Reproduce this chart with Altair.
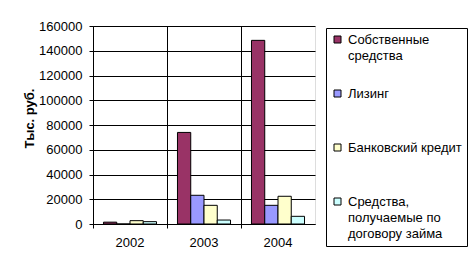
import altair as alt
import pandas as pd

years = ["2002", "2003", "2004"]
series = [
    "Собственные средства",
    "Лизинг",
    "Банковский кредит",
    "Средства, получаемые по договору займа",
]
own_funds = [1500, 74000, 148400]
leasing = [0, 23200, 15100]
bank_credit = [2700, 15100, 22400]
loan_funds = [1900, 3200, 6200]
colors = ["#993366", "#9999FF", "#FFFFCC", "#CCFFFF"]
legend_lines = {
    "Собственные средства": ["Собственные", "средства", ""],
    "Лизинг": ["Лизинг", "", ""],
    "Банковский кредит": ["Банковский кредит", "", ""],
    "Средства, получаемые по договору займа": ["Средства,", "получаемые по", "договору займа"],
}

rows = []
for name, vals in zip(series, [own_funds, leasing, bank_credit, loan_funds]):
    for y, v in zip(years, vals):
        rows.append({"year": y, "series": name, "value": v})
df = pd.DataFrame(rows)

def js_list(lst):
    return "[" + ",".join("'" + s + "'" for s in lst) + "]"

label_expr = "{" + ",".join("'" + k + "':" + js_list(v) for k, v in legend_lines.items()) + "}[datum.label]"

FONT = "Arial"
FS = 13

chart = alt.Chart(df).mark_bar(stroke="black", strokeWidth=1).encode(
    x=alt.X(
        "year:N",
        scale=alt.Scale(paddingInner=0, paddingOuter=0),
        axis=alt.Axis(
            title=None, labelAngle=0, bandPosition=0, grid=True, gridColor="black",
            gridOpacity=1, tickColor="black", tickSize=4, labelPadding=8,
            domainColor="black", labelFontSize=FS, labelFont=FONT, labelColor="black",
        ),
    ),
    xOffset=alt.XOffset("series:N", sort=series, scale=alt.Scale(paddingInner=0, paddingOuter=0.79)),
    y=alt.Y(
        "value:Q",
        scale=alt.Scale(domain=[0, 160000], nice=False),
        axis=alt.Axis(
            title="Тыс. руб.", values=list(range(0, 160001, 20000)), format="d",
            grid=True, gridColor="black", gridOpacity=1, tickColor="black", tickSize=4,
            labelPadding=7, domainColor="black", labelFontSize=FS, labelFont=FONT,
            labelColor="black", titleFont=FONT, titleFontSize=FS, titleFontWeight="bold",
            titleColor="black", titleX=-64, titleY=92, titleAngle=270,
            titleAlign="center", titleBaseline="middle",
        ),
    ),
    color=alt.Color(
        "series:N", sort=series,
        scale=alt.Scale(domain=series, range=colors),
        legend=alt.Legend(
            title=None, orient="none", legendX=233, legendY=2,
            labelExpr=label_expr, labelFont=FONT, labelFontSize=FS, labelColor="black",
            labelBaseline="middle", labelLimit=300,
            symbolType="square", symbolSize=49, symbolStrokeColor="black",
            symbolStrokeWidth=1, symbolOpacity=1, labelOffset=4,
            rowPadding=8, padding=5, strokeColor="black", fillColor="white",
        ),
    ),
).properties(
    width=222, height=198,
    autosize=alt.AutoSizeParams(type="none"),
    padding={"left": 93, "top": 26, "right": 154, "bottom": 46},
).configure_view(stroke="#808080", strokeWidth=1).configure(
    background="white", style={"guide-label": {"lineHeight": 16}}
)

chart.save("out.html", embed_options={"renderer": "svg", "actions": False})
